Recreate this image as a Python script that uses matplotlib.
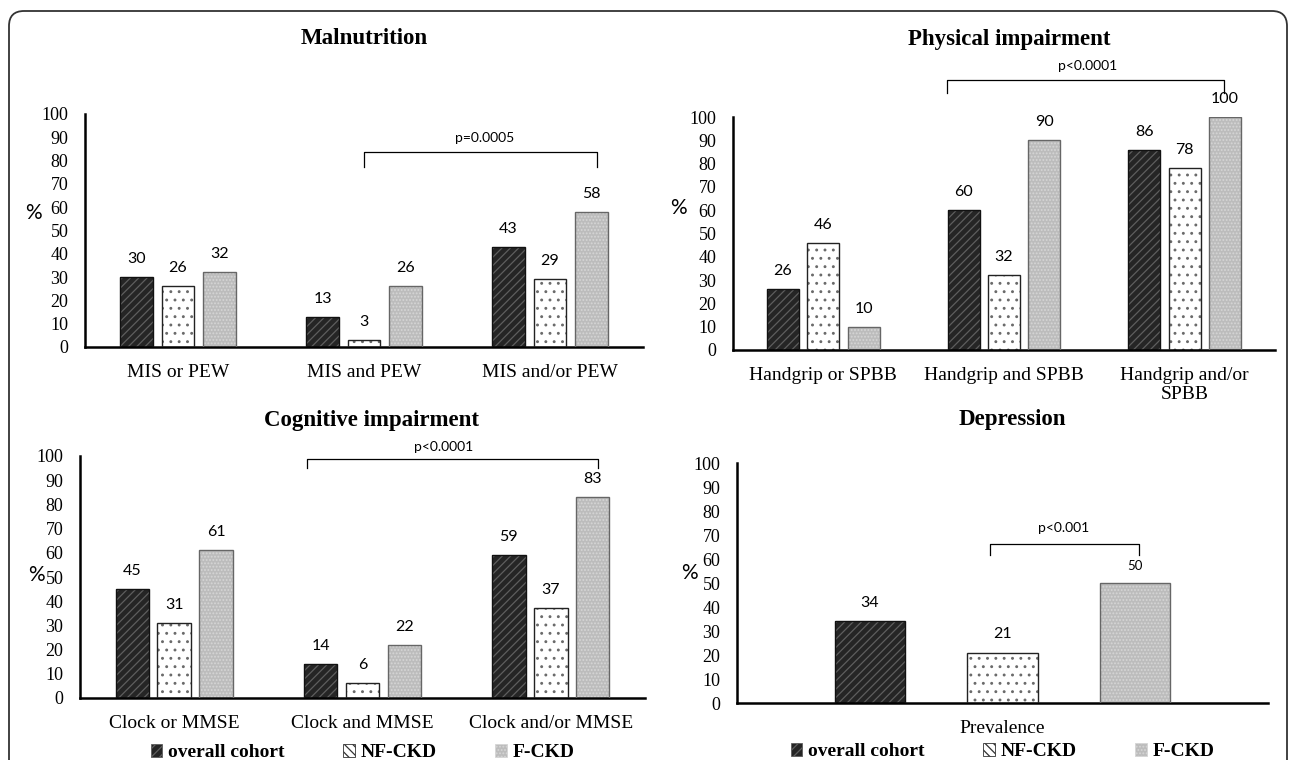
import matplotlib
matplotlib.use("Agg")
import matplotlib.pyplot as plt
from matplotlib.patches import Patch, FancyBboxPatch

# ---------------- data ----------------
groups = ['overall cohort', 'NF-CKD', 'F-CKD']

cats_maln = ['MIS or PEW', 'MIS and PEW', 'MIS and/or PEW']
overall_maln = [30, 13, 43]
nf_maln = [26, 3, 29]
f_maln = [32, 26, 58]

cats_phys = ['Handgrip or SPBB', 'Handgrip and SPBB', 'Handgrip and/or\nSPBB']
overall_phys = [26, 60, 86]
nf_phys = [46, 32, 78]
f_phys = [10, 90, 100]

cats_cogn = ['Clock or MMSE', 'Clock and MMSE', 'Clock and/or MMSE']
overall_cogn = [45, 14, 59]
nf_cogn = [31, 6, 37]
f_cogn = [61, 22, 83]

cats_depr = ['Prevalence']
overall_depr = [34]
nf_depr = [21]
f_depr = [50]

SERIF = 'Liberation Serif'
SANS = 'Lato'

plt.rcParams['hatch.linewidth'] = 0.9

# fill, hatch colour, hatch, edge
styles = [
    ('#252525', '#5e5e5e', '////', '#111111'),
    ('white', '#6a6a6a', '..', '#222222'),
    ('#bcbcbc', '#d6d6d6', '.....', '#666666'),
]
legend_hatch = ['////', '\\\\\\\\', '.....']


def draw_bars(ax, cats, series, offsets, width, small_last=False):
    n = len(cats)
    for k, vals in enumerate(series):
        fc, hc, hatch, ec = styles[k]
        xs = [i + 0.5 + offsets[k] for i in range(n)]
        ax.bar(xs, vals, width, color=fc, edgecolor=hc, hatch=hatch, linewidth=0, zorder=2)
        ax.bar(xs, vals, width, fill=False, edgecolor=ec, linewidth=1.0, zorder=3)
        for x, v in zip(xs, vals):
            fs = 9.5 if (small_last and k == 2) else 11.5
            ax.annotate(str(v), (x, v), xytext=(0, 8), textcoords='offset points',
                        ha='center', va='bottom', fontsize=fs, family=SANS)
    ax.set_xlim(0, n)
    ax.set_ylim(0, 100)
    ax.set_yticks(range(0, 101, 10))
    ax.set_xticks([i + 0.5 for i in range(n)])
    ax.set_xticklabels(cats, family=SERIF, fontsize=14)
    for lab in ax.get_yticklabels():
        lab.set_family(SERIF)
        lab.set_fontsize(13)
    ax.tick_params(axis='both', length=0)
    ax.tick_params(axis='y', pad=12)
    ax.tick_params(axis='x', pad=12)
    for s in ['top', 'right']:
        ax.spines[s].set_visible(False)
    for s in ['left', 'bottom']:
        ax.spines[s].set_linewidth(1.8)
        ax.spines[s].set_color('black')
    ax.set_facecolor('none')


def bracket(ax, x0, x1, ytop, ybot, text, tpos):
    ax.plot([x0, x0, x1, x1], [ybot, ytop, ytop, ybot], color='black', lw=0.9,
            clip_on=False, zorder=4)
    ax.text(tpos[0], tpos[1], text, ha='center', va='center', fontsize=10, family=SANS)


def legend(ax, ypos):
    handles = [Patch(facecolor=s[0], edgecolor=s[1] if k != 1 else '#333333',
                     hatch=legend_hatch[k], linewidth=0.6)
               for k, s in enumerate(styles)]
    ax.legend(handles, groups, loc='center', bbox_to_anchor=(0.5, ypos), ncol=3,
              frameon=False, handlelength=0.6, handleheight=0.6, handletextpad=0.3,
              columnspacing=3.0, prop={'family': SERIF, 'weight': 'bold', 'size': 14})


W, H = 1292, 760
fig = plt.figure(figsize=(W / 100, H / 100), dpi=100)


def px_axes(left, right, top, bottom):
    return fig.add_axes([left / W, 1 - bottom / H, (right - left) / W, (bottom - top) / H])


ax1 = px_axes(85, 643, 114, 347)
ax2 = px_axes(733, 1275, 117, 350)
ax3 = px_axes(80, 645, 456, 698)
ax4 = px_axes(737, 1268, 463, 703)

off3 = [-0.223, 0, 0.223]
draw_bars(ax1, cats_maln, [overall_maln, nf_maln, f_maln], off3, 0.177)
draw_bars(ax2, cats_phys, [overall_phys, nf_phys, f_phys], off3, 0.177)
draw_bars(ax3, cats_cogn, [overall_cogn, nf_cogn, f_cogn], off3, 0.177)
draw_bars(ax4, cats_depr, [overall_depr, nf_depr, f_depr], [-0.25, 0, 0.25], 0.132,
          small_last=True)

bracket(ax1, 1.5, 2.75, 83.7, 77.3, 'p=0.0005', (2.15, 89.7))
bracket(ax2, 1.184, 2.717, 115.9, 110.3, 'p<0.0001', (1.965, 121.9))
bracket(ax3, 1.207, 2.75, 98.8, 95.0, 'p<0.0001', (1.93, 103.7))
bracket(ax4, 0.476, 0.757, 66.3, 61.7, 'p<0.001', (0.616, 72.9))

legend(ax3, -0.227)
legend(ax4, -0.204)

# titles and % labels in pixel positions
titles = [('Malnutrition', 364, 38), ('Physical impairment', 1009, 39),
          ('Cognitive impairment', 371, 420), ('Depression', 1012, 419)]
for t, x, y in titles:
    fig.text(x / W, 1 - y / H, t, ha='center', va='center', family=SERIF,
             weight='bold', fontsize=16.5)
for x, y in [(33, 213), (678, 208), (36, 575), (689, 573)]:
    fig.text(x / W, 1 - y / H, '%', ha='center', va='center', family=SANS, fontsize=15)

# rounded frame
frame = FancyBboxPatch((0.09, -0.5), 12.78, 7.99, boxstyle='round,pad=0,rounding_size=0.15',
                       transform=fig.dpi_scale_trans, fill=False, edgecolor='#333333',
                       linewidth=1.3)
fig.add_artist(frame)

fig.savefig('out.png', dpi=100)
